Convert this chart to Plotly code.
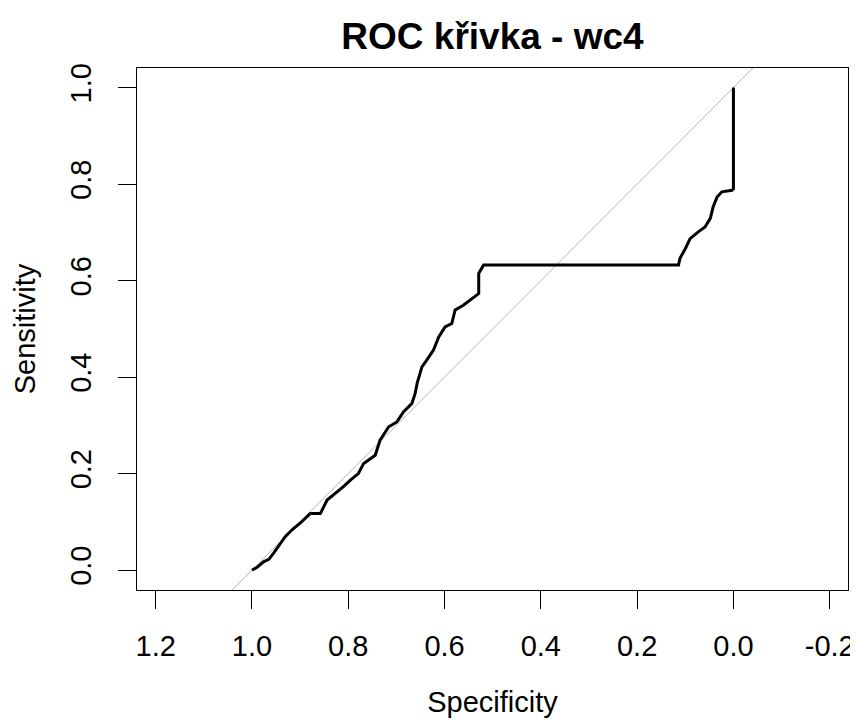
import plotly.graph_objects as go

# ROC curve points (specificity, sensitivity)
specificity = [1.000, 0.990, 0.976, 0.965, 0.955, 0.945, 0.931, 0.915, 0.900, 0.879,
               0.858, 0.844, 0.825, 0.810, 0.795, 0.779, 0.768, 0.744, 0.734, 0.716,
               0.699, 0.685, 0.668, 0.661, 0.657, 0.647, 0.637, 0.623, 0.612, 0.599,
               0.585, 0.578, 0.561, 0.547, 0.529, 0.529, 0.519, 0.114, 0.111, 0.100,
               0.090, 0.073, 0.059, 0.048, 0.042, 0.034, 0.024, 0.003, 0.000, 0.000]
sensitivity = [0.000, 0.005, 0.017, 0.022, 0.035, 0.050, 0.069, 0.085, 0.097, 0.117,
               0.117, 0.145, 0.160, 0.173, 0.187, 0.200, 0.221, 0.238, 0.269, 0.297,
               0.307, 0.328, 0.345, 0.366, 0.387, 0.421, 0.435, 0.456, 0.483, 0.504,
               0.511, 0.539, 0.549, 0.559, 0.573, 0.615, 0.632, 0.632, 0.646, 0.666,
               0.687, 0.701, 0.711, 0.729, 0.753, 0.773, 0.784, 0.787, 0.790, 1.000]

# chance diagonal (sensitivity = 1 - specificity), extended across the plot
chance_spec = [1.3, -0.3]
chance_sens = [1 - s for s in chance_spec]

x_ticks = [1.2, 1.0, 0.8, 0.6, 0.4, 0.2, 0.0, -0.2]
x_tick_labels = ["1.2", "1.0", "0.8", "0.6", "0.4", "0.2", "0.0", "-0.2"]
y_ticks = [0.0, 0.2, 0.4, 0.6, 0.8, 1.0]
y_tick_labels = ["0.0", "0.2", "0.4", "0.6", "0.8", "1.0"]

FONT = "Arial, Liberation Sans, sans-serif"

# the page body has an 8px default margin, so the figure is 8px smaller
W, H = 850, 712

fig = go.Figure()
fig.add_trace(go.Scatter(x=chance_spec, y=chance_sens, mode="lines",
                         line=dict(color="#b4b4b4", width=1), hoverinfo="skip",
                         showlegend=False))
fig.add_trace(go.Scatter(x=specificity, y=sensitivity, mode="lines",
                         line=dict(color="black", width=3), showlegend=False))

fig.update_layout(
    width=W, height=H,
    paper_bgcolor="white", plot_bgcolor="white",
    margin=dict(l=129, r=10, t=60, b=130, autoexpand=False),
    font=dict(family=FONT, size=29, color="black"),
    title=dict(text="<b>ROC křivka - wc4</b>", x=(129 + 840) / 2 / W, xanchor="center",
               y=1 - 28 / H, yanchor="middle", yref="container",
               font=dict(size=37, family=FONT, color="black")),
    xaxis=dict(range=[1.2388, -0.238], tickvals=x_ticks, ticktext=x_tick_labels,
               showgrid=False, zeroline=False, showline=True, mirror=True,
               linecolor="black", linewidth=1, ticks="outside", ticklen=18,
               tickwidth=1, tickcolor="black", ticklabelstandoff=12, automargin=False,
               title=dict(text="Specificity", standoff=30, font=dict(size=29))),
    yaxis=dict(range=[-0.0414, 1.0406], tickvals=y_ticks, ticktext=y_tick_labels,
               showgrid=False, zeroline=False, showline=True, mirror=True,
               linecolor="black", linewidth=1, ticks="outside", ticklen=18,
               tickwidth=1, tickcolor="black", tickangle=-90, ticklabelstandoff=15,
               automargin=False,
               title=dict(text="Sensitivity", standoff=21, font=dict(size=29))),
)

fig.write_html("out.html")
